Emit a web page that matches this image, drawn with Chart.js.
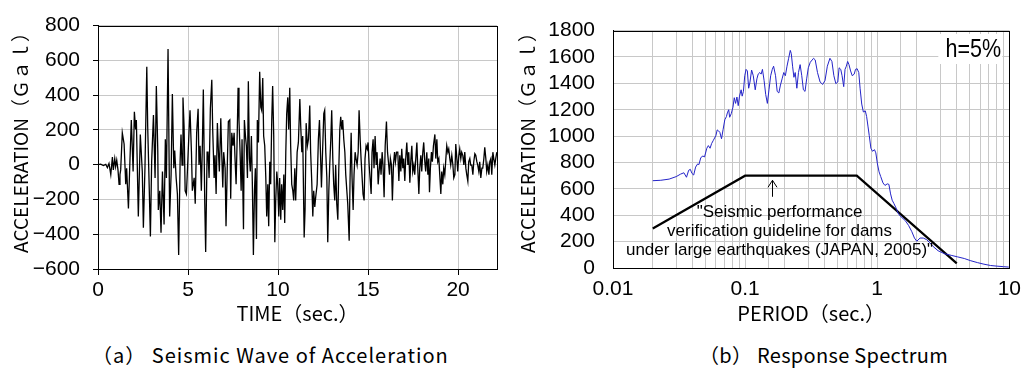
<!DOCTYPE html>
<html><head><meta charset="utf-8">
<script src="https://cdn.jsdelivr.net/npm/chart.js@4/dist/chart.umd.min.js"></script>
<style>
html,body{margin:0;padding:0;background:#fff;width:1030px;height:371px;overflow:hidden}
#wl{position:absolute;left:0;top:0;width:510px;height:330px}
#wr{position:absolute;left:510px;top:0;width:520px;height:330px}
.cap{position:absolute;top:342px;line-height:26px;font-size:20px;font-family:'Noto Sans CJK JP',sans-serif;color:#000;white-space:nowrap}
</style></head><body>
<div id="wl"><canvas id="c1"></canvas></div>
<div id="wr"><canvas id="c2"></canvas></div>
<div class="cap" style="left:92px;letter-spacing:1px">（a） Seismic Wave of Acceleration</div>
<div class="cap" style="left:699px;letter-spacing:0.3px">（b） Response Spectrum</div>
<script>
// ---- (a) Seismic wave of acceleration ----
const waveTime = [0,0.15,0.30,0.43,0.52,0.61,0.71,0.80,0.85,0.93,0.98,1.04,1.11,1.17,1.22,1.26,1.35,1.45,1.54,1.59,1.69,1.76,1.85,1.95,2.02,2.09,2.13,2.24,2.35,2.46,2.52,2.61,2.71,2.76,2.84,2.91,2.98,3.08,3.17,3.24,3.32,3.35,3.43,3.50,3.58,3.67,3.74,3.80,3.89,3.98,4.06,4.13,4.21,4.26,4.34,4.41,4.48,4.56,4.61,4.67,4.72,4.78,4.84,4.91,4.98,5.06,5.11,5.19,5.24,5.34,5.40,5.48,
5.56,5.61,5.67,5.74,5.80,5.85,5.93,5.98,6.06,6.11,6.17,6.24,6.32,6.37,6.45,6.50,6.56,6.63,6.69,6.74,6.82,6.87,6.93,6.98,7.06,7.11,7.19,7.24,7.32,7.37,7.43,7.50,7.56,7.61,7.67,7.72,7.78,7.83,7.89,7.95,8.00,8.08,8.13,8.19,8.24,8.30,8.35,8.41,8.46,8.52,8.57,8.63,8.69,8.74,8.80,8.85,8.91,8.98,9.04,9.09,9.15,9.20,9.26,9.32,9.37,9.43,9.48,9.54,9.59,9.65,9.70,9.76,9.82,9.87,9.93,9.98,10.04,10.09,10.15,10.20,10.26,10.32,10.37,10.43,10.48,10.54,10.59,10.65,10.70,10.76,10.82,10.87,10.93,10.98,
11.06,11.13,11.21,11.26,11.32,11.37,11.45,11.50,11.56,11.63,11.69,11.76,11.81,11.87,11.93,11.98,12.04,12.09,12.17,12.24,12.30,12.35,12.41,12.46,12.54,12.59,12.65,12.71,12.76,12.82,12.87,12.93,12.98,13.04,13.09,13.15,13.20,13.26,13.32,13.37,13.43,13.48,13.54,13.59,13.65,13.71,13.76,13.82,13.87,13.95,14.00,14.06,14.11,14.17,14.22,14.28,14.33,14.39,14.45,14.50,14.56,14.61,14.67,14.72,14.78,14.83,14.89,14.95,15.00,15.06,15.11,15.17,15.22,15.28,15.33,15.39,15.45,15.50,15.56,15.61,15.67,15.72,15.78,15.83,15.89,15.95,16.02,16.08,16.13,16.19,16.24,16.30,16.35,16.41,16.47,16.52,16.58,
16.65,16.71,16.76,16.82,16.87,16.93,16.98,17.04,17.09,17.15,17.21,17.26,17.32,17.37,17.43,17.48,17.54,17.59,17.65,17.71,17.76,17.82,17.87,17.93,17.98,18.04,18.09,18.15,18.20,18.26,18.32,18.37,18.41,18.46,18.52,18.57,18.63,18.71,18.76,18.82,18.87,18.93,18.98,19.04,19.09,19.15,19.20,19.26,19.32,19.37,19.43,19.48,19.54,19.59,19.65,19.71,19.76,19.82,19.87,19.93,19.98,20.04,20.09,20.15,20.20,20.26,20.32,20.37,20.43,20.48,20.54,20.59,20.65,20.70,20.76,20.82,20.87,20.93,20.98,21.04,21.09,21.15,21.20,21.26,21.32,21.37,21.43,21.48,21.54,21.59,21.65,21.71,21.76,21.82,21.87,21.93,21.98,22.04,22.09,22.15];
const waveAcc = [0,3,-5,2,-17,7,-57,44,-30,35,-11,26,-30,-113,-57,-30,183,119,-113,-20,-252,-20,257,-39,304,202,257,-298,174,-39,-363,-11,563,220,-113,-413,17,285,-76,452,81,-261,-150,-391,-39,-344,146,-76,665,-298,-57,406,-20,81,-76,-169,-520,17,174,-2,387,220,-150,-169,-2,202,313,72,-150,-76,-224,183,
322,-2,109,-150,128,433,-224,-502,72,72,-76,322,489,202,-76,54,-169,239,72,-39,267,72,-131,72,-20,-354,35,248,257,-196,183,109,183,35,-113,109,443,257,72,-150,146,-372,257,165,109,-76,480,35,-39,165,-94,-520,-150,-20,-428,257,128,535,331,313,498,165,109,-76,-298,-113,-354,17,-113,257,452,165,-446,-206,-39,-113,-298,-76,-317,-113,-261,-57,-335,72,294,387,202,443,109,-113,-150,-206,-20,-206,
72,128,378,220,72,165,-419,-261,239,109,146,341,72,-94,-298,-150,-243,-187,-113,146,257,91,-131,35,294,313,72,-76,-446,-150,-2,146,313,35,-113,-206,-2,-224,-317,-39,202,276,202,257,146,72,-57,-150,-224,-437,-76,183,-76,-261,-57,72,35,-2,72,313,146,35,-76,-169,-206,35,109,91,128,-2,-76,-169,72,146,-20,165,-2,72,-113,-39,35,-57,72,-2,-187,109,248,72,17,-57,35,-2,-206,-2,72,17,72,
72,-94,54,-39,91,-20,35,-94,35,128,-2,72,-104,17,109,-39,-2,-57,35,128,-20,-169,-20,54,-39,72,128,17,-39,72,-57,35,-159,-20,72,17,109,174,35,146,17,35,-57,-169,-39,-113,-20,-57,35,109,72,91,35,-2,54,-2,-76,-57,119,35,-39,54,91,35,72,54,-2,72,-20,-57,-94,17,35,-2,-2,-57,17,63,54,17,-2,-39,17,-76,-20,-20,35,100,35,-39,-2,-57,17,35,-57,72,35,-2,35,72];
const timeTicks = [0,5,10,15,20];
const accTicksA = [-600,-400,-200,0,200,400,600,800];

// ---- (b) Response spectrum ----
const specPeriod = [0.020,0.0230,0.0266,0.0301,0.0325,0.0344,0.0360,0.0374,0.0385,0.0396,0.0408,0.0422,0.0437,0.0447,0.0462,0.0479,0.0493,0.0513,0.0527,0.0543,0.0558,0.0575,0.0601,0.0615,0.0629,0.0644,0.0663,0.0682,0.0702,0.0722,0.0734,0.0751,0.0764,0.0786,0.0809,0.0828,0.0847,0.0867,0.0887,0.0907,0.0933,0.0950,0.0971,0.0994,0.1017,0.1040,0.1064,0.1089,0.1120,0.1153,0.1193,0.1228,0.1256,0.1293,0.1323,0.1353,0.1392,0.1432,0.1474,0.1516,0.1561,0.1606,0.1643,0.1700,0.1749,0.1800,0.1852,0.1905,0.1961,0.2017,0.2076,0.2136,0.2198,0.2236,0.2288,0.2341,0.2395,0.2464,0.2535,0.2609,0.2684,0.2762,0.2842,0.2924,0.3009,0.3114,0.3297,0.3393,0.3531,0.3696,0.3869,0.4027,0.4192,0.4387,0.4540,0.4698,0.4862,0.5030,0.5147,0.5297,0.5419,0.5577,0.5706,0.5838,0.5973,0.6111,0.6288,0.6470,0.6695,0.6850,0.7047,0.7252,0.7420,0.7634,0.7855,0.8128,0.8316,0.8508,0.8704,0.8957,0.9216,0.9537,0.9759,1.004,1.033,1.063,1.106,1.145,1.192,1.226,1.262,1.298,1.336,1.390,1.455,1.540,1.632,1.727,1.829,1.914,1.993,2.110,2.234,2.365,2.503,2.651,2.888,3.237,3.630,4.069,4.560,5.111,5.731,6.424,7.202,8.072,9.050,9.915];
const specAcc = [662,665,674,693,712,722,688,741,748,717,705,765,789,784,837,849,842,908,928,908,944,968,1004,1047,1040,1028,980,1052,1124,1148,1176,1200,1143,1171,1219,1291,1248,1296,1231,1303,1351,1303,1339,1458,1506,1494,1363,1410,1501,1458,1351,1434,1470,1482,1470,1506,1422,1315,1248,1351,1458,1506,1530,1458,1339,1327,1387,1434,1482,1458,1530,1590,1650,1626,1530,1446,1482,1363,1482,1542,1458,1351,1339,1434,1518,1560,1590,1578,1482,1410,1392,1422,1530,1590,1566,1458,1398,1410,1518,1506,1458,1375,1506,1530,1566,1542,1494,1458,1470,1506,1511,1482,1363,1243,1183,1191,1148,1076,1004,908,885,897,873,789,729,693,645,626,638,634,562,514,490,454,406,382,359,323,275,227,203,227,227,215,191,163,131,108,96,84,72,55,41,29,19,14,10,7];
const guidePeriod = [0.02,0.1,0.7,4.0];
const guideAcc = [300,700,700,35];
const periodTicks = [0.01,0.1,1,10];
const periodTickLabels = ['0.01','0.1','1','10'];
const accTicksB = [0,200,400,600,800,1000,1200,1400,1600,1800];

const TICKF = "'Liberation Sans',Arial,sans-serif";
const CJK = "'Noto Sans CJK JP',sans-serif";
const SANS = "'Liberation Sans',Arial,sans-serif";
const Y_TITLE = 'ACCELERATION（Ｇａｌ）';

const frame = {
  id:'frame',
  afterDraw(chart){
    const a = chart.chartArea, c = chart.ctx;
    c.save(); c.strokeStyle='#000'; c.lineWidth=1;
    c.strokeRect(Math.round(a.left)+0.5, Math.round(a.top)+0.5, Math.round(a.right-a.left), Math.round(a.bottom-a.top));
    const o = chart.options.plugins.frame || {};
    c.fillStyle='#000';
    c.translate(o.titleX, o.titleY); c.rotate(-Math.PI/2);
    c.font = "19px "+CJK; c.textAlign='center'; c.textBaseline='middle';
    c.fillText(Y_TITLE, 0, 0);
    c.restore();
  }
};

const pts = (xs, ys) => xs.map((x,i)=>({x:x, y:ys[i]}));

new Chart(document.getElementById('c1'), {
  type:'line',
  data:{datasets:[{data:pts(waveTime,waveAcc), borderColor:'#000', borderWidth:1.3, pointRadius:0, tension:0, fill:false}]},
  options:{
    animation:false, responsive:true, maintainAspectRatio:false,
    layout:{padding:{left:0, top:17, right:13, bottom:0}},
    plugins:{legend:{display:false}, tooltip:{enabled:false}, frame:{titleX:21, titleY:138}},
    scales:{
      x:{type:'linear', min:0, max:22.16,
        afterBuildTicks:s=>{ s.ticks = timeTicks.map(v=>({value:v})); },
        afterFit:s=>{ s.height = 61; },
        ticks:{font:{family:TICKF, size:21}, color:'#000', padding:3, maxRotation:0, autoSkip:false, callback:v=>String(v)},
        grid:{color:'#c8c8c8', tickColor:'#000', tickLength:6, lineWidth:1},
        border:{color:'#000'},
        title:{display:true, text:'TIME（sec.）', font:{family:CJK, size:20}, color:'#000', padding:{top:0,bottom:5}}
      },
      y:{min:-600, max:800,
        afterBuildTicks:s=>{ s.ticks = accTicksA.map(v=>({value:v})); },
        afterFit:s=>{ s.width = 98; },
        ticks:{font:{family:TICKF, size:21}, color:'#000', padding:13, autoSkip:false, callback:v=>String(v).replace('-','−')},
        grid:{color:'#c8c8c8', tickColor:'#000', tickLength:5},
        border:{color:'#000'},
        title:{display:false}
      }
    }
  },
  plugins:[frame]
});

const annot = {
  id:'annot',
  beforeDatasetsDraw(chart){
    const c = chart.ctx, a = chart.chartArea;
    c.save(); c.fillStyle='#fff'; c.fillRect(a.right-71, 34, 64, 30); c.restore();
  },
  afterDatasetsDraw(chart){
    const c = chart.ctx, xs = chart.scales.x, ys = chart.scales.y, a = chart.chartArea;
    c.save();
    c.fillStyle='#000';
    c.save();
    c.translate(a.right-36, 50); c.scale(0.86,1);
    c.font = "25px "+SANS; c.textAlign='center'; c.textBaseline='middle';
    c.fillText('h=5%', 0, 0);
    c.restore();
    c.font = "17px "+SANS; c.textAlign='center'; c.textBaseline='middle';
    const cx = xs.getPixelForValue(0.17)+4;
    c.fillText('"Seismic performance', cx, ys.getPixelForValue(420));
    c.fillText('verification guideline for dams', cx, ys.getPixelForValue(277));
    c.fillText('under large earthquakes (JAPAN, 2005)"', cx, ys.getPixelForValue(134));
    const ax = Math.round(xs.getPixelForValue(0.16))+0.5;
    const y1 = ys.getPixelForValue(665), y2 = ys.getPixelForValue(540);
    c.strokeStyle='#000'; c.lineWidth=1;
    c.beginPath(); c.moveTo(ax,y1); c.lineTo(ax,y2);
    c.moveTo(ax-4.5,y1+7); c.lineTo(ax,y1); c.lineTo(ax+4.5,y1+7); c.stroke();
    c.restore();
  }
};

new Chart(document.getElementById('c2'), {
  type:'line',
  data:{datasets:[
    {data:pts(specPeriod,specAcc), borderColor:'#2424c8', borderWidth:1, pointRadius:0, tension:0, fill:false},
    {data:pts(guidePeriod,guideAcc), borderColor:'#000', borderWidth:2.2, pointRadius:0, tension:0, fill:false}
  ]},
  options:{
    animation:false, responsive:true, maintainAspectRatio:false,
    layout:{padding:{left:0, top:17, right:13, bottom:0}},
    plugins:{legend:{display:false}, tooltip:{enabled:false}, frame:{titleX:18, titleY:138}},
    scales:{
      x:{type:'logarithmic', min:0.01, max:10,
        afterFit:s=>{ s.height = 62; },
        ticks:{font:{family:TICKF, size:21}, color:'#000', padding:9, maxRotation:0, autoSkip:false,
          callback:(v)=>{ const i = periodTicks.findIndex(p=>Math.abs(p-v)/p<1e-6); return i>=0 ? periodTickLabels[i] : ''; }},
        grid:{color:'#c8c8c8', drawTicks:false},
        border:{color:'#000'},
        title:{display:true, text:'PERIOD（sec.）', font:{family:CJK, size:20}, color:'#000', padding:{top:0,bottom:5}}
      },
      y:{min:0, max:1800,
        afterBuildTicks:s=>{ s.ticks = accTicksB.map(v=>({value:v})); },
        afterFit:s=>{ s.width = 103; },
        ticks:{font:{family:TICKF, size:21}, color:'#000', padding:18, autoSkip:false, callback:v=>String(v)},
        grid:{color:'#c8c8c8', drawTicks:false},
        border:{color:'#000'},
        title:{display:false}
      }
    }
  },
  plugins:[annot, frame]
});
</script>
</body></html>
